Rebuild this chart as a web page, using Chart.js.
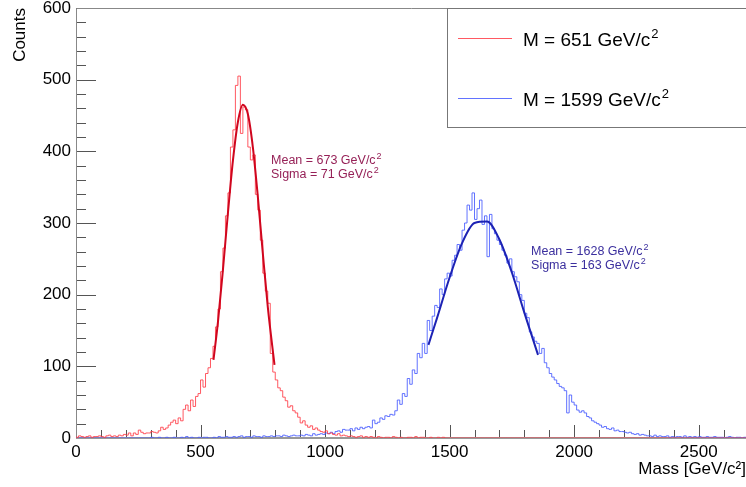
<!DOCTYPE html>
<html>
<head>
<meta charset="utf-8">
<script src="https://cdn.jsdelivr.net/npm/chart.js@4.4.1/dist/chart.umd.min.js"></script>
<style>
  html, body { margin: 0; padding: 0; background: #fff; }
</style>
</head>
<body>
<canvas id="massChart" width="746" height="487"></canvas>
<script>
/* ── Data (10 GeV bins) ───────────────────── */
const BIN_WIDTH = 10;
const X_MAX = 2690;

const xTicks = [0, 500, 1000, 1500, 2000, 2500];
const yTicks = [0, 100, 200, 300, 400, 500, 600];

// red histogram, bins start at 0 GeV
const redStart = 0;
const redCounts = [
  2, 1, 3, 2, 1, 2, 3, 1, 2, 2,
  3, 2, 1, 3, 4, 2, 3, 2, 4, 3,
  5, 4, 7, 3, 7, 5, 11, 8, 6, 7,
  7, 9, 8, 7, 10, 15, 12, 14, 18, 22,
  25, 20, 28, 24, 40, 46, 38, 53, 44, 58,
  62, 81, 71, 90, 98, 111, 128, 155, 180, 232,
  265, 310, 342, 406, 430, 492, 505, 425, 462, 458,
  406, 388, 395, 340, 318, 276, 230, 205, 188, 118,
  92, 81, 70, 66, 57, 52, 43, 45, 38, 35,
  29, 21, 24, 18, 15, 17, 12, 14, 11, 9,
  8, 10, 6, 7, 5, 4, 6, 3, 4, 3,
  2, 3, 2, 1, 2, 3, 1, 2, 1, 2,
  1, 0, 2, 1, 0, 1, 1, 0, 2, 1,
  0, 1, 0, 0, 1, 1, 0, 2, 0, 1,
  1, 0, 0, 1, 0, 0, 1, 0, 1, 0,
];

// blue histogram, bins start at 300 GeV
const blueStart = 300;
const blueCounts = [
  0, 1, 0, 0, 1, 0, 0, 1, 0, 0,
  1, 0, 0, 1, 0, 2, 0, 1, 0, 0,
  1, 0, 1, 1, 0, 0, 1, 0, 2, 1,
  1, 2, 1, 1, 2, 1, 2, 3, 1, 2,
  2, 1, 3, 2, 2, 1, 3, 2, 2, 3,
  2, 3, 3, 2, 4, 3, 2, 3, 4, 3,
  3, 4, 3, 5, 4, 3, 6, 4, 5, 6,
  5, 7, 6, 8, 6, 9, 10, 8, 12, 11,
  11, 13, 10, 14, 12, 15, 13, 15, 16, 14,
  25, 20, 22, 28, 26, 31, 30, 33, 32, 38,
  53, 47, 62, 58, 83, 75, 95, 90, 118, 112,
  132, 118, 164, 150, 170, 185, 182, 208, 200, 222,
  230, 226, 248, 255, 270, 262, 290, 300, 325, 318,
  342, 305, 320, 332, 298, 310, 253, 312, 292, 285,
  276, 270, 262, 255, 244, 250, 232, 225, 218, 200,
  192, 174, 168, 148, 141, 135, 132, 118, 125, 105,
  98, 90, 85, 81, 76, 72, 70, 66, 35, 60,
  50, 46, 39, 36, 38, 35, 30, 28, 24, 22,
  20, 18, 15, 16, 13, 12, 14, 10, 11, 9,
  9, 8, 7, 8, 6, 5, 6, 4, 5, 4,
  3, 3, 2, 4, 2, 3, 2, 2, 3, 1,
  2, 1, 2, 2, 1, 3, 1, 2, 1, 2,
  1, 2, 1, 1, 2, 1, 1, 2, 1, 1,
  1, 0, 1, 2, 1, 0, 1, 1, 0, 1,
];

// gaussian fit curves
const redFitX  = [552, 570, 590, 610, 630, 650, 670, 690, 710, 730, 750, 770, 797];
const redFitY  = [109, 162, 235, 314, 387, 441, 465, 452, 406, 337, 258, 183, 102];
const blueFitX = [1415, 1450, 1500, 1550, 1600, 1650, 1700, 1750, 1800, 1855];
const blueFitY = [130, 168, 224, 272, 300, 302, 277, 231, 175, 116];

const legendLabels = ['M = 651 GeV/c', 'M = 1599 GeV/c'];
const redFitText   = ['Mean = 673 GeV/c', 'Sigma = 71 GeV/c'];
const blueFitText  = ['Mean = 1628 GeV/c', 'Sigma = 163 GeV/c'];

// where the fit texts sit, in axis units (x GeV, y counts)
const redTextAt  = [783, 382];
const blueTextAt = [1827, 255];

/* ── Styles ───────────────────────────────── */
const RED_HIST  = 'rgba(255,60,70,0.85)';
const BLUE_HIST = 'rgba(70,90,255,0.85)';
const RED_FIT   = '#d0061e';
const BLUE_FIT  = '#1c22b4';
const RED_TEXT  = '#962157';
const BLUE_TEXT = '#3b2f9e';
const FONT = '"Liberation Sans", Arial, Helvetica, sans-serif';

/* ── Helpers ──────────────────────────────── */
function histPoints(start, counts) {
  const pts = [];
  for (let b = 0; b < 2700; b += BIN_WIDTH) {
    const i = (b - start) / BIN_WIDTH;
    const v = (i >= 0 && i < counts.length) ? counts[i] : 0;
    pts.push({ x: b, y: v });
  }
  pts.push({ x: 2700, y: pts[pts.length - 1].y });
  return pts;
}

function fitPoints(xs, ys) {
  return xs.map((x, i) => ({ x, y: ys[i] }));
}

function textWithSup(ctx, text, x, y, size, color) {
  ctx.font = `${size}px ${FONT}`;
  ctx.fillStyle = color;
  ctx.textAlign = 'left';
  ctx.textBaseline = 'alphabetic';
  ctx.fillText(text, x, y);
  const w = ctx.measureText(text).width;
  ctx.font = `${Math.round(size * 0.7)}px ${FONT}`;
  ctx.fillText('2', x + w + 1, y - size * 0.42);
}

/* ── ROOT-like frame, inner ticks, legend, fit text ── */
const rootDecor = {
  id: 'rootDecor',
  beforeDatasetsDraw(chart) {
    const { ctx, chartArea: a, scales: { x, y } } = chart;
    ctx.save();
    ctx.strokeStyle = '#555';
    ctx.lineWidth = 1;
    ctx.beginPath();
    for (let v = 0; v <= X_MAX; v += 100) {
      const px = Math.round(x.getPixelForValue(v)) + 0.5;
      const len = v % 500 === 0 ? 13 : 8;
      ctx.moveTo(px, a.bottom);
      ctx.lineTo(px, a.bottom - len);
    }
    for (let v = 0; v <= 600; v += 20) {
      const py = Math.round(y.getPixelForValue(v)) + 0.5;
      const len = v % 100 === 0 ? 20 : 10;
      ctx.moveTo(a.left, py);
      ctx.lineTo(a.left + len, py);
    }
    ctx.stroke();

    ctx.strokeStyle = '#888';
    ctx.beginPath();
    ctx.moveTo(a.right, a.top + 0.5);
    ctx.lineTo(a.left + 0.5, a.top + 0.5);
    ctx.lineTo(a.left + 0.5, a.bottom);
    ctx.stroke();
    ctx.lineWidth = 2;
    ctx.strokeStyle = '#999';
    ctx.beginPath();
    ctx.moveTo(a.left, a.bottom);
    ctx.lineTo(a.right, a.bottom);
    ctx.stroke();
    ctx.restore();
  },
  afterDraw(chart) {
    const { ctx, scales: { x, y } } = chart;
    ctx.save();

    // fit results
    [[redFitText, redTextAt, RED_TEXT], [blueFitText, blueTextAt, BLUE_TEXT]].forEach(([lines, at, col]) => {
      const px = x.getPixelForValue(at[0]);
      const py = y.getPixelForValue(at[1]);
      lines.forEach((t, i) => textWithSup(ctx, t, px, py + i * 14, 12.5, col));
    });

    // legend box
    ctx.fillStyle = '#fff';
    ctx.fillRect(448, 9, 300, 118);
    ctx.strokeStyle = '#777';
    ctx.lineWidth = 1;
    ctx.strokeRect(447.5, 8.5, 310, 119);
    const rows = [[38, RED_HIST], [98, BLUE_HIST]];
    rows.forEach(([ly, col], i) => {
      ctx.strokeStyle = col;
      ctx.lineWidth = 1;
      ctx.beginPath();
      ctx.moveTo(458, ly + 0.5);
      ctx.lineTo(512, ly + 0.5);
      ctx.stroke();
      textWithSup(ctx, legendLabels[i], 523, ly + 8, 19, '#000');
    });
    ctx.restore();
  },
};

/* ── Chart ────────────────────────────────── */
const massChart = new Chart(document.getElementById('massChart'), {
  type: 'line',
  data: {
    datasets: [
      { label: 'red fit', data: fitPoints(redFitX, redFitY), borderColor: RED_FIT, borderWidth: 2, cubicInterpolationMode: 'monotone' },
      { label: 'blue fit', data: fitPoints(blueFitX, blueFitY), borderColor: BLUE_FIT, borderWidth: 2, cubicInterpolationMode: 'monotone' },
      { label: legendLabels[0], data: histPoints(redStart, redCounts), borderColor: RED_HIST, borderWidth: 1, stepped: 'after' },
      { label: legendLabels[1], data: histPoints(blueStart, blueCounts), borderColor: BLUE_HIST, borderWidth: 1, stepped: 'after' },
    ],
  },
  options: {
    responsive: false,
    animation: false,
    events: [],
    elements: { point: { radius: 0 } },
    layout: { padding: { top: 8, left: 0, right: 0, bottom: 0 } },
    plugins: { legend: { display: false }, tooltip: { enabled: false } },
    scales: {
      x: {
        type: 'linear',
        min: 0,
        max: X_MAX,
        grid: { display: false, drawTicks: false },
        border: { display: false },
        afterBuildTicks: s => { s.ticks = xTicks.map(v => ({ value: v })); },
        afterFit: s => { s.height = 49; s.paddingLeft = 0; s.paddingRight = 0; },
        ticks: { color: '#000', font: { family: FONT, size: 17 }, padding: 4, maxRotation: 0, autoSkip: false, callback: v => String(v) },
        title: { display: true, text: 'Mass [GeV/c²]', align: 'end', color: '#000', font: { family: FONT, size: 17 }, padding: { top: 0, bottom: 7 } },
      },
      y: {
        min: 0,
        max: 600,
        grid: { display: false, drawTicks: false },
        border: { display: false },
        afterBuildTicks: s => { s.ticks = yTicks.map(v => ({ value: v })); },
        afterFit: s => { s.width = 76; s.paddingTop = 0; s.paddingBottom = 0; },
        ticks: { color: '#000', font: { family: FONT, size: 17 }, padding: 5, callback: v => String(v) },
        title: { display: true, text: 'Counts', align: 'end', color: '#000', font: { family: FONT, size: 17 }, padding: { top: 10, bottom: 0 } },
      },
    },
  },
  plugins: [rootDecor],
});
</script>
</body>
</html>
